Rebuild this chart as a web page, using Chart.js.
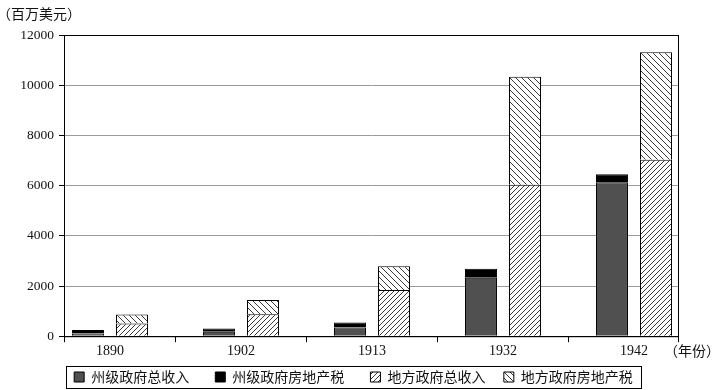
<!DOCTYPE html>
<html>
<head>
<meta charset="utf-8">
<script src="https://cdn.jsdelivr.net/npm/chart.js@4/dist/chart.umd.min.js"></script>
<style>
  html, body { margin: 0; padding: 0; background: #fff; }
  #wrap { width: 716px; height: 390px; }
</style>
</head>
<body>
<div id="wrap"><canvas id="myChart"></canvas></div>
<script>
// values (millions of dollars)
const years = ['1890', '1902', '1913', '1932', '1942'];
const stateTotal = [110, 180, 345, 2330, 6130];
const stateTax = [140, 125, 200, 360, 320];
const localTotal = [510, 870, 1840, 6030, 7030];
const localTax = [350, 570, 950, 4310, 4280];
const yTicks = [0, 2000, 4000, 6000, 8000, 10000, 12000];

const cjk = '"Noto Sans CJK SC", "Noto Sans", sans-serif';
const serif = '"Liberation Serif", "DejaVu Serif", serif';

function hatch(dir, s){
    const c = document.createElement('canvas');
    c.width = s; c.height = s;
    const g = c.getContext('2d');
    g.fillStyle = '#fff';
    g.fillRect(0, 0, s, s);
    g.strokeStyle = '#222';
    g.lineWidth = 0.9;
    g.beginPath();
    if(dir == '/'){
        g.moveTo(0, s); g.lineTo(s, 0);
        g.moveTo(-1, 1); g.lineTo(1, -1);
        g.moveTo(s - 1, s + 1); g.lineTo(s + 1, s - 1);
    } else {
        g.moveTo(0, 0); g.lineTo(s, s);
        g.moveTo(-1, s - 1); g.lineTo(1, s + 1);
        g.moveTo(s - 1, -1); g.lineTo(s + 1, 1);
    }
    g.stroke();
    return g.createPattern(c, 'repeat');
}

const pts = arr => arr.map((v, i) => ({x: i, y: v}));

// frame, legend box and the two axis captions
const extras = {
    id: 'extras',
    beforeDatasetsDraw(chart){
        const {ctx, chartArea: a} = chart;
        ctx.save();
        ctx.strokeStyle = '#000';
        ctx.lineWidth = 1;
        ctx.strokeRect(a.left + 0.5, a.top + 0.5, a.right - a.left, a.bottom - a.top);
        ctx.restore();
    },
    afterDraw(chart){
        const ctx = chart.ctx;
        ctx.save();
        ctx.fillStyle = '#111';
        ctx.font = '14px ' + cjk;
        ctx.textBaseline = 'middle';
        ctx.fillText('（百万美元）', -3, 14);
        ctx.fillText('（年份）', 664, 351);
        const hb = chart.legend.legendHitBoxes;
        if(hb && hb.length){
            const l = Math.min(...hb.map(h => h.left)) - 8;
            const r = Math.max(...hb.map(h => h.left + h.width)) + 8;
            const t = hb[0].top + hb[0].height / 2 - 11;
            ctx.strokeStyle = '#000';
            ctx.lineWidth = 1;
            ctx.strokeRect(Math.round(l) + 0.5, Math.round(t) + 0.5, Math.round(r - l), 22);
        }
        ctx.restore();
    }
};

createChart();

function createChart(){
    const ctx = document.getElementById('myChart').getContext('2d');
    const xMin = -0.351, xMax = 4.336;
    const gaps = ['\u3000 ', '\u3000 ', '   ', ''];
    new Chart(ctx, {
        type: 'bar',
        data: {
            datasets: [{
                label: '州级政府总收入',
                data: pts(stateTotal),
                stack: 'state',
                backgroundColor: '#505050',
                borderColor: '#000',
                borderWidth: 1
            },
            {
                label: '州级政府房地产税',
                data: pts(stateTax),
                stack: 'state',
                backgroundColor: '#000',
                borderColor: '#000',
                borderWidth: 1
            },
            {
                label: '地方政府总收入',
                data: pts(localTotal),
                stack: 'local',
                backgroundColor: hatch('/', 5),
                borderColor: '#000',
                borderWidth: 1
            },
            {
                label: '地方政府房地产税',
                data: pts(localTax),
                stack: 'local',
                backgroundColor: hatch('\\', 6),
                borderColor: '#000',
                borderWidth: 1
            }]
        },
        options: {
            responsive: true,
            maintainAspectRatio: false,
            animation: false,
            categoryPercentage: 0.672,
            barPercentage: 0.727,
            layout: { padding: { left: 0, right: 9, top: 35, bottom: 0 } },
            plugins: {
                tooltip: { enabled: false },
                legend: {
                    position: 'bottom',
                    maxHeight: 29,
                    labels: {
                        boxWidth: 10,
                        boxHeight: 10,
                        padding: 9,
                        color: '#111',
                        font: { family: cjk, size: 14 },
                        generateLabels: chart => {
                            const items = Chart.defaults.plugins.legend.labels.generateLabels(chart);
                            items.forEach((it, i) => { it.text = it.text + gaps[i]; });
                            return items;
                        }
                    }
                }
            },
            scales: {
                x: {
                    type: 'linear',
                    min: xMin,
                    max: xMax,
                    offset: false,
                    stacked: true,
                    afterBuildTicks: axis => {
                        axis.ticks = years.map((y, i) => ({value: i}));
                    },
                    ticks: {
                        autoSkip: false,
                        maxRotation: 0,
                        padding: 1,
                        color: '#111',
                        font: { family: serif, size: 14 },
                        callback: v => years[v]
                    },
                    grid: {
                        offset: false,
                        drawOnChartArea: false,
                        tickLength: 6,
                        tickColor: 'rgba(0,0,0,0)'
                    },
                    border: { color: '#000', width: 1 }
                },
                // tick marks between the year groups
                x2: {
                    type: 'linear',
                    position: 'bottom',
                    weight: -1,
                    min: xMin,
                    max: xMax,
                    offset: false,
                    afterBuildTicks: axis => {
                        const vals = [xMin];
                        for(let i = 0; i < years.length - 1; i++) vals.push(i + 0.5);
                        vals.push(xMax);
                        axis.ticks = vals.map(v => ({value: v}));
                    },
                    afterFit: axis => { axis.height = 0; },
                    ticks: { display: false, autoSkip: false },
                    grid: {
                        offset: false,
                        drawOnChartArea: false,
                        tickLength: 6,
                        tickColor: '#000'
                    },
                    border: { display: false }
                },
                y: {
                    min: 0,
                    max: 12000,
                    stacked: true,
                    afterBuildTicks: axis => { axis.ticks = yTicks.map(v => ({value: v})); },
                    afterFit: axis => { axis.width = 64; },
                    ticks: {
                        padding: 5,
                        color: '#111',
                        font: { family: serif, size: 13.5 },
                        callback: v => String(v)
                    },
                    grid: {
                        color: '#9a9a9a',
                        tickColor: '#000',
                        tickLength: 5
                    },
                    border: { color: '#000', width: 1 }
                },
                // empty strip on the right that holds the year caption
                yGap: {
                    type: 'linear',
                    position: 'right',
                    min: 0,
                    max: 1,
                    afterFit: axis => { axis.width = 29; },
                    ticks: { display: false },
                    grid: { display: false },
                    border: { display: false }
                }
            }
        },
        plugins: [extras]
    });
}
</script>
</body>
</html>
